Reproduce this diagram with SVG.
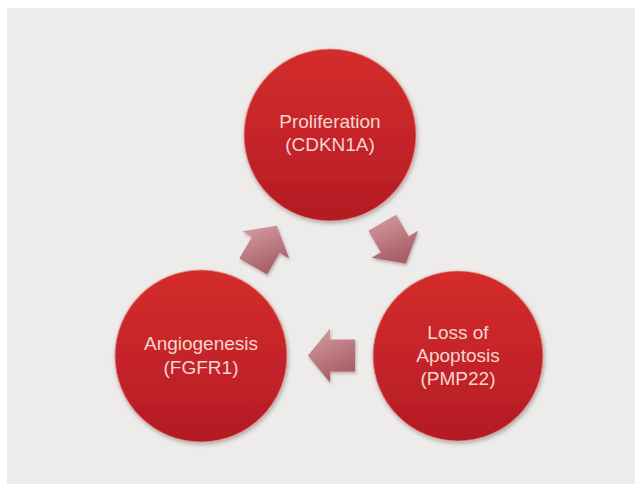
<svg xmlns="http://www.w3.org/2000/svg" width="635" height="484" viewBox="0 0 635 484">
  <defs>
    <linearGradient id="redFill" x1="0" y1="0" x2="0" y2="1">
      <stop offset="0" stop-color="#d42d2a"/>
      <stop offset="0.55" stop-color="#c4232a"/>
      <stop offset="1" stop-color="#b21c23"/>
    </linearGradient>
    <linearGradient id="arrowFill" x1="0" y1="0" x2="0.4" y2="1">
      <stop offset="0" stop-color="#d6a0a4"/>
      <stop offset="1" stop-color="#a85e66"/>
    </linearGradient>
    <filter id="shadow" x="-20%" y="-20%" width="140%" height="140%">
      <feDropShadow dx="1" dy="2" stdDeviation="2" flood-color="#000" flood-opacity="0.3"/>
    </filter>
    <filter id="soft" x="-20%" y="-20%" width="140%" height="140%">
      <feGaussianBlur in="SourceAlpha" stdDeviation="1.5"/>
      <feOffset dx="1" dy="2" result="b"/>
      <feFlood flood-color="#5a2a2e" flood-opacity="0.35"/>
      <feComposite in2="b" operator="in" result="s"/>
      <feMerge><feMergeNode in="s"/><feMergeNode in="SourceGraphic"/></feMerge>
    </filter>
  </defs>
  <style>
    .node { fill: url(#redFill); stroke: #e58a80; stroke-width: 1.2; stroke-opacity: 0.7; filter: url(#shadow); }
    .label { font-family: "Liberation Sans", Arial, sans-serif; font-size: 19px; fill: #f4d6cd; text-anchor: middle; }
    .arrow { fill: url(#arrowFill); filter: url(#soft); }
  </style>
  <rect x="0" y="0" width="635" height="484" fill="#ffffff"/>
  <rect x="7" y="8" width="628" height="476" fill="#eeebeb"/>

  <g id="connectors">
    <polygon class="arrow" points="396.1,214.7 408.6,236.3 418.1,230.8 405.8,263.4 371.4,257.8 380.9,252.3 368.4,230.7"/>
    <polygon class="arrow" points="355,339.5 330,339.5 330,328.5 308,355.5 330,382.5 330,371.5 355,371.5"/>
    <polygon class="arrow" points="239.4,258.4 251.9,236.7 242.4,231.2 276.8,225.7 289.1,258.2 279.6,252.7 267.1,274.4"/>
  </g>

  <g id="node-proliferation">
    <circle class="node" cx="330" cy="135" r="86"/>
    <text class="label" x="330" y="128">Proliferation</text>
    <text class="label" x="330" y="151">(CDKN1A)</text>
  </g>

  <g id="node-apoptosis">
    <circle class="node" cx="458" cy="356" r="85"/>
    <text class="label" x="458" y="339">Loss of</text>
    <text class="label" x="458" y="362">Apoptosis</text>
    <text class="label" x="458" y="385">(PMP22)</text>
  </g>

  <g id="node-angiogenesis">
    <circle class="node" cx="201" cy="356" r="86"/>
    <text class="label" x="201" y="350">Angiogenesis</text>
    <text class="label" x="201" y="374">(FGFR1)</text>
  </g>
</svg>
